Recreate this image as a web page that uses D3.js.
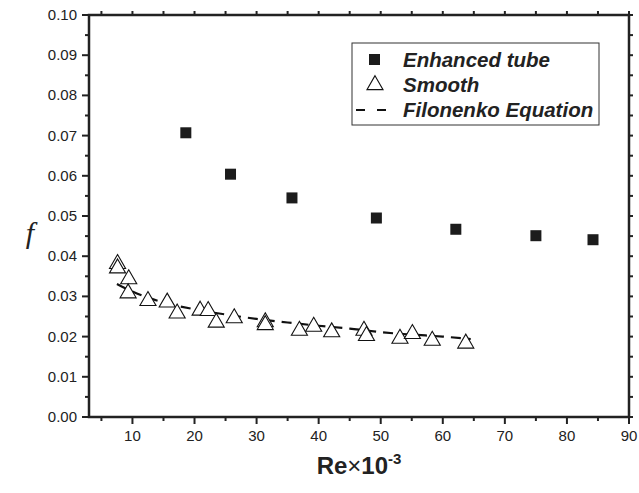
<!DOCTYPE html>
<html>
<head>
<meta charset="utf-8">
<script src="https://cdn.jsdelivr.net/npm/d3@7"></script>
<style>
  body { margin: 0; background: #fff; }
  svg { display: block; }
  text { font-family: "Liberation Sans", Arial, sans-serif; fill: #222; }
</style>
</head>
<body>
<svg id="chart" width="639" height="493"></svg>
<script>
// Enhanced tube (filled squares)
var enhancedRe = [18.6, 25.8, 35.7, 49.3, 62.1, 75.0, 84.2];
var enhancedF  = [0.0707, 0.0604, 0.0545, 0.0495, 0.0467, 0.0451, 0.0441];

// Smooth tube (open triangles)
var smoothRe = [7.6, 7.6, 9.4, 9.3, 12.5, 15.6, 17.2, 20.9, 22.2, 23.5, 26.4,
                31.4, 31.4, 36.9, 39.2, 42.1, 47.3, 47.7, 53.1, 55.1, 58.3, 63.7];
var smoothF  = [0.0381, 0.0370, 0.0343, 0.0308, 0.0289, 0.0285, 0.0258, 0.0265,
                0.0264, 0.0235, 0.0246, 0.0236, 0.0229, 0.0215, 0.0225, 0.0211,
                0.0215, 0.0202, 0.0195, 0.0207, 0.0190, 0.0183];

// Filonenko equation (dashed line)
var filonRe = [7.5, 10, 15, 20, 25, 30, 35, 40, 45, 50, 55, 60, 64.5];
var filonF  = [0.0331, 0.0312, 0.0285, 0.0268, 0.0255, 0.0244, 0.0235,
               0.0227, 0.0220, 0.0211, 0.0205, 0.0200, 0.0194];

var xTicks = [10, 20, 30, 40, 50, 60, 70, 80, 90];
var yTicks = [0, 0.01, 0.02, 0.03, 0.04, 0.05, 0.06, 0.07, 0.08, 0.09, 0.10];

var legendItems = ['Enhanced tube', 'Smooth', 'Filonenko Equation'];

var svg = d3.select('#chart');
// plot box (window.top is reserved, so use a prefix)
var pL = 89, pR = 629, pT = 15, pB = 417;

var x = d3.scaleLinear().domain([3, 90]).range([pL, pR]);
var y = d3.scaleLinear().domain([0, 0.10]).range([pB, pT]);

var minorX = d3.range(5, 90, 10);
var minorY = d3.range(0.005, 0.1, 0.01);

// ticks
function tickLines(g, vals, fn) {
    g.selectAll(null).data(vals).enter().append('line').each(fn)
        .attr('stroke', '#222').attr('stroke-width', 2);
}
var ticks = svg.append('g');
tickLines(ticks, xTicks, function(d) {
    d3.select(this).attr('x1', x(d)).attr('x2', x(d)).attr('y1', pB).attr('y2', pB + 7);
});
tickLines(ticks, minorX, function(d) {
    d3.select(this).attr('x1', x(d)).attr('x2', x(d)).attr('y1', pB).attr('y2', pB + 4);
});
tickLines(ticks, xTicks.concat(minorX), function(d) {
    d3.select(this).attr('x1', x(d)).attr('x2', x(d)).attr('y1', pT).attr('y2', pT - 4);
});
tickLines(ticks, yTicks, function(d) {
    d3.select(this).attr('x1', pL - 7).attr('x2', pL).attr('y1', y(d)).attr('y2', y(d));
});
tickLines(ticks, minorY, function(d) {
    d3.select(this).attr('x1', pL - 4).attr('x2', pL).attr('y1', y(d)).attr('y2', y(d));
});
tickLines(ticks, yTicks.concat(minorY), function(d) {
    d3.select(this).attr('x1', pR).attr('x2', pR + 4).attr('y1', y(d)).attr('y2', y(d));
});

// frame
svg.append('rect')
    .attr('x', pL).attr('y', pT)
    .attr('width', pR - pL).attr('height', pB - pT)
    .attr('fill', 'none').attr('stroke', '#222').attr('stroke-width', 2.5);

// tick labels
svg.append('g').selectAll('text').data(xTicks).enter().append('text')
    .attr('x', function(d) { return x(d); })
    .attr('y', pB + 24)
    .attr('text-anchor', 'middle')
    .attr('font-size', 15)
    .text(function(d) { return d; });

svg.append('g').selectAll('text').data(yTicks).enter().append('text')
    .attr('x', pL - 12)
    .attr('y', function(d) { return y(d) + 5; })
    .attr('text-anchor', 'end')
    .attr('font-size', 15)
    .text(function(d) { return d.toFixed(2); });

// axis titles
var xt = svg.append('text')
    .attr('x', 359).attr('y', 474)
    .attr('text-anchor', 'middle')
    .attr('font-size', 24).attr('font-weight', 'bold');
xt.append('tspan').text('Re');
xt.append('tspan').attr('font-weight', 'normal').text('\u00d7');
xt.append('tspan').text('10');
xt.append('tspan').attr('font-size', 15).attr('dy', -10).text('-3');

svg.append('text')
    .attr('x', 30).attr('y', 243)
    .attr('text-anchor', 'middle')
    .style('font-family', '"Liberation Serif", "Times New Roman", serif')
    .style('font-style', 'italic')
    .attr('font-size', 30)
    .text('f');

// dashed Filonenko line
var line = d3.line()
    .x(function(d, i) { return x(filonRe[i]); })
    .y(function(d) { return y(d); })
    .curve(d3.curveMonotoneX);
svg.append('path')
    .attr('d', line(filonF))
    .attr('fill', 'none')
    .attr('stroke', '#111')
    .attr('stroke-width', 2.2)
    .attr('stroke-dasharray', '10,7');

// smooth triangles
var tri = d3.symbol().type(d3.symbolTriangle).size(112);
svg.append('g').selectAll('path').data(smoothF).enter().append('path')
    .attr('d', tri)
    .attr('transform', function(d, i) { return 'translate(' + x(smoothRe[i]) + ',' + y(d) + ')'; })
    .attr('fill', '#fff')
    .attr('stroke', '#111')
    .attr('stroke-width', 1.1);

// enhanced squares
svg.append('g').selectAll('rect').data(enhancedF).enter().append('rect')
    .attr('x', function(d, i) { return x(enhancedRe[i]) - 5.5; })
    .attr('y', function(d) { return y(d) - 5.5; })
    .attr('width', 11).attr('height', 11)
    .attr('fill', '#1c1c1c');

// legend
var lg = svg.append('g');
lg.append('rect')
    .attr('x', 352).attr('y', 43).attr('width', 247).attr('height', 82)
    .attr('fill', '#fff').attr('stroke', '#333').attr('stroke-width', 1);
lg.append('rect').attr('x', 369).attr('y', 54).attr('width', 11).attr('height', 11).attr('fill', '#1c1c1c');
lg.append('path').attr('d', tri).attr('transform', 'translate(375,85)')
    .attr('fill', '#fff').attr('stroke', '#111').attr('stroke-width', 1.1);
lg.append('line').attr('x1', 356).attr('x2', 388).attr('y1', 110).attr('y2', 110)
    .attr('stroke', '#111').attr('stroke-width', 2.2).attr('stroke-dasharray', '9,12');
lg.selectAll('text').data(legendItems).enter().append('text')
    .attr('x', 403)
    .attr('y', function(d, i) { return 67 + i * 25; })
    .attr('font-size', 20.5).attr('font-weight', 'bold').attr('font-style', 'italic')
    .text(function(d) { return d; });
</script>
</body>
</html>
